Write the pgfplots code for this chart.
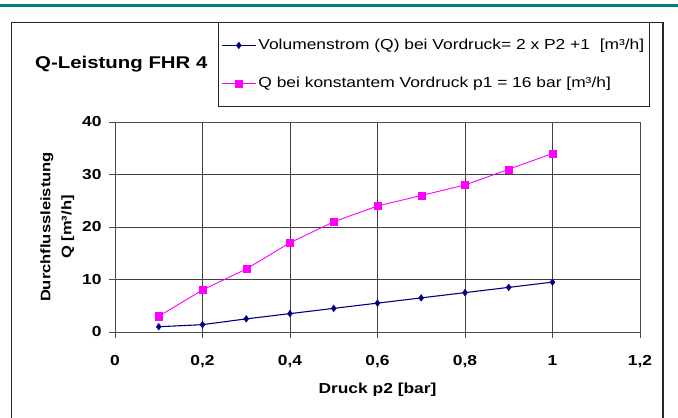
\documentclass[border=0pt]{standalone}
\usepackage{pgfplots}
\pgfplotsset{compat=1.18}
\usepackage{fontspec}
\setmainfont[FakeStretch=1.2]{Liberation Sans}
\definecolor{tealbar}{RGB}{0,128,120}
\definecolor{navyline}{RGB}{0,0,128}
\definecolor{pinkline}{RGB}{255,0,255}
\pgfplotstableread{
x q
0.1 1.0
0.2 1.4
0.3 2.5
0.4 3.5
0.5 4.5
0.6 5.5
0.7 6.5
0.8 7.5
0.9 8.5
1.0 9.5
}\seriesA
\pgfplotstableread{
x q
0.1 3
0.2 8
0.3 12
0.4 17
0.5 21
0.6 24
0.7 26
0.8 28
0.9 31
1.0 34
}\seriesB
\begin{document}
\begin{tikzpicture}[x=1pt,y=1pt]
\useasboundingbox (0,0) rectangle (678,418);
\fill[tealbar] (0,410.5) rectangle (678,414);
\draw[black!85,line width=1.2pt] (11.5,-5) -- (11.5,395.5) -- (663,395.5) -- (663,-5);
\node[anchor=west,font=\fontsize{17}{19}\selectfont\bfseries,inner sep=0pt] at (35,354) {Q-Leistung FHR 4};
\begin{axis}[
  at={(115pt,86pt)}, anchor=south west,
  scale only axis, width=525pt, height=210pt,
  xmin=0, xmax=1.2, ymin=0, ymax=40,
  xtick={0,0.2,0.4,0.6,0.8,1,1.2},
  xticklabels={0,{0,2},{0,4},{0,6},{0,8},1,{1,2}},
  ytick={0,10,20,30,40},
  grid=major,
  major grid style={black!75,line width=0.8pt},
  axis line style={black!70,line width=0.9pt},
  tick style={black!70,line width=0.9pt},
  tick align=outside, major tick length=6pt,
  xtick pos=bottom, ytick pos=left,
  tick label style={font=\fontsize{14.5}{16}\selectfont\bfseries},
  xticklabel style={yshift=-14pt},
  yticklabel style={xshift=-4pt},
  /pgf/number format/assume math mode=true,
  xlabel={Druck p2 [bar]},
  xlabel style={font=\fontsize{14.5}{17}\selectfont\bfseries, yshift=-8pt},
  ylabel={Durchflussleistung\\Q [m³/h]},
  ylabel style={font=\fontsize{13.8}{21}\selectfont\bfseries, align=center, yshift=1pt},
  legend style={at={(0.196,1.476)}, anchor=north west, draw=black!85, line width=0.8pt,
    font=\fontsize{14.5}{16}\selectfont, row sep=22pt, inner ysep=15pt, inner xsep=3pt,
    legend cell align=left},
  legend image code/.code={
    \draw[#1] (0pt,0pt) -- (34pt,0pt);
    \draw[#1,mark repeat=2,mark phase=2] plot coordinates {(0pt,0pt) (17pt,0pt) (34pt,0pt)};
  },
]
\addplot[navyline, line width=1.1pt, mark=diamond*, mark size=3.4pt, mark options={solid,fill=navyline,line width=0.3pt}] table[x=x,y=q] {\seriesA};
\addlegendentry{Volumenstrom (Q) bei Vordruck= 2 x P2 +1\ \ [m³/h]}
\addplot[pinkline, line width=0.9pt, mark=square*, mark size=3.6pt, mark options={solid,fill=pinkline,line width=0.3pt}] table[x=x,y=q] {\seriesB};
\addlegendentry{Q bei konstantem Vordruck p1 = 16 bar [m³/h]}
\end{axis}
\end{tikzpicture}
\end{document}
